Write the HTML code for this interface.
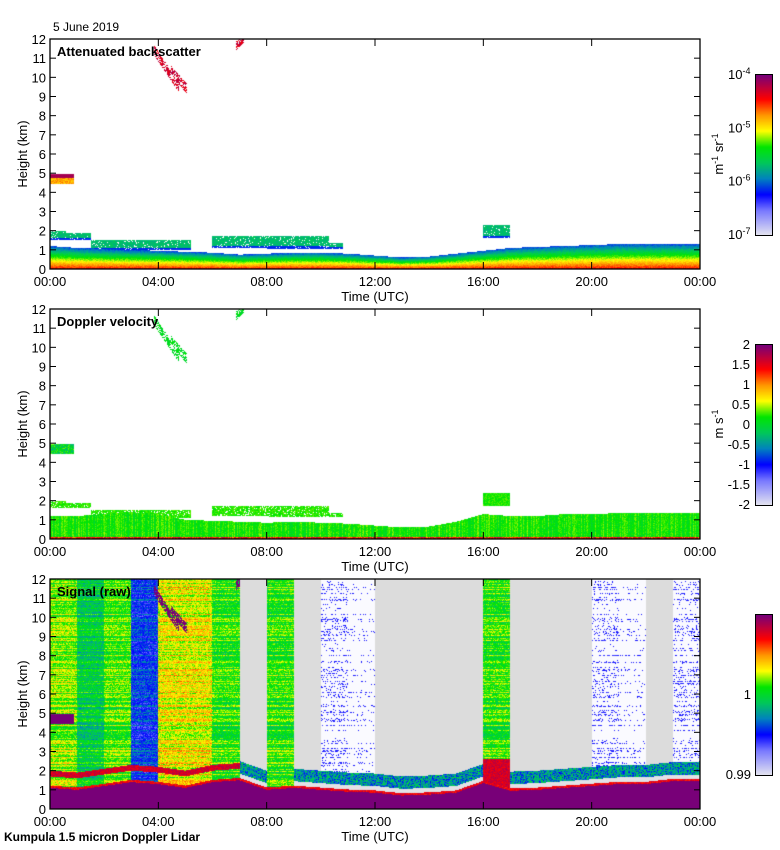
<!DOCTYPE html>
<html><head><meta charset="utf-8">
<style>
body{margin:0;background:#fff;width:780px;height:850px;overflow:hidden;font-family:"Liberation Sans",sans-serif;}
#wrap{position:relative;width:780px;height:850px;}
canvas{position:absolute;}
.t{position:absolute;font-size:13px;color:#000;white-space:nowrap;}
.b{font-weight:bold;}
</style></head>
<body>
<div id="wrap">
<div class="t" style="left:53px;top:20px;font-size:12px">5 June 2019</div>
<div class="t b" style="left:4px;top:830px;font-size:12px">Kumpula 1.5 micron Doppler Lidar</div>
</div>
<script>
// ---- data (hourly, 0..24 h) ----
const hours=[0,1,2,3,4,5,6,7,8,9,10,11,12,13,14,15,16,17,18,19,20,21,22,23,24];
const blTop=[1.2,1.1,1.05,1.0,0.95,0.9,0.85,0.75,0.8,0.85,0.85,0.8,0.7,0.6,0.65,0.8,0.95,1.1,1.15,1.2,1.25,1.3,1.3,1.3,1.3];
const dopTop=[1.2,1.2,1.3,1.4,1.3,1.0,0.95,0.9,0.85,0.9,0.85,0.8,0.7,0.6,0.65,0.9,1.3,1.2,1.2,1.3,1.3,1.35,1.35,1.35,1.35];
const purpleTop=[1.1,1.0,1.2,1.4,1.3,1.1,1.4,1.5,1.0,1.1,1.0,0.9,0.85,0.7,0.75,0.85,1.35,0.95,1.0,1.1,1.2,1.3,1.3,1.45,1.45];
const rawType=['yg','gt','gy','b','yo','yo','g','grey','g','grey','wb','wl','grey','grey','grey','grey','g','grey','grey','grey','wb','wl','grey','wb'];
const elevLayers=[[0,0.6,1.5,2.0],[0.6,1.5,1.5,1.9],[1.5,5.2,1.0,1.5],[6.0,10.3,1.1,1.7],[8.0,10.8,1.05,1.35],[16.0,17.0,1.6,2.3]];
const clouds=[[0,0.9,4.45,4.95]];
const cirrus=[[3.9,11.3,4.7,9.6],[4.5,10.3,5.0,9.5],[6.9,11.7,7.1,12.0]];
// ---- geometry ----
const X0=50,W=650,PH=230;
const panels=[{y:39,cb:74},{y:309,cb:344},{y:579,cb:614}];
const xs=t=>X0+t/24*W;
function interp(arr,t){const i=Math.min(23,Math.floor(t));const f=t-i;return arr[i]*(1-f)+arr[i+1]*f;}
const stops=[[0,[225,225,240]],[0.15,[120,120,255]],[0.25,[0,0,255]],[0.35,[0,130,190]],[0.45,[0,200,90]],[0.55,[0,230,0]],[0.65,[255,255,0]],[0.75,[255,150,0]],[0.85,[255,0,0]],[1,[120,0,120]]];
function cmap(v){v=Math.max(0,Math.min(1,v));for(let i=1;i<stops.length;i++){if(v<=stops[i][0]){const a=stops[i-1],b=stops[i];const f=(v-a[0])/(b[0]-a[0]);return a[1].map((c,k)=>Math.round(c+(b[1][k]-c)*f));}}return stops[stops.length-1][1];}
function hs(a,b){let h=(a*374761393+b*668265263)|0;h=(h^(h>>>13))*1274126177|0;return ((h^(h>>>16))>>>0)/4294967296;}
function inCirrus(t,h){for(const c of cirrus){const[t0,h0,t1,h1]=c;if(t<t0-0.05||t>t1+0.05)continue;const f=(t-t0)/(t1-t0);const hc=h0+(h1-h0)*f;if(Math.abs(h-hc)<0.25)return true;}return false;}
function pix(p,t,h,px,py){
 const n=hs(px,py),r=hs(7,py);
 if(p===0){
  const top=interp(blTop,t);
  if(h<top){const f=h/top;return cmap(0.85-0.55*f+0.06*(n-0.5));}
  for(const c of clouds)if(t>=c[0]&&t<=c[1]&&h>=c[2]&&h<=c[3])return cmap(h>4.75?0.95:0.68+0.1*n);
  if(inCirrus(t,h)&&n>0.35)return cmap(0.8+0.15*n);
  for(const e of elevLayers)if(t>=e[0]&&t<=e[1]&&h>=e[2]&&h<=e[3]){if(n<0.1)return null;return cmap((h-e[2]<0.1)?0.28:0.4+0.06*n);}
  return null;
 }
 if(p===1){
  const top=interp(dopTop,t);
  if(h<top){let v=0.55+0.08*(hs(px,3)-0.5)+0.06*(n-0.5);if(h<0.08)v=0.75+0.2*n;return cmap(v);}
  for(const c of clouds)if(t>=c[0]&&t<=c[1]&&h>=c[2]&&h<=c[3])return cmap(0.4+0.2*n);
  if(inCirrus(t,h)&&n>0.35)return cmap(0.45+0.1*n);
  for(const e of elevLayers.slice(0,5))if(t>=e[0]&&t<=e[1]&&h>=e[2]+0.1&&h<=e[3]&&n>0.15)return cmap(0.53+0.06*n);
  if(t>=16&&t<=17&&h>=1.7&&h<=2.4)return cmap(0.53+0.06*n);
  return null;
 }
 const pt=interp(purpleTop,t);
 if(h<pt)return [120,0,120];
 const ty=rawType[Math.min(23,Math.floor(t))];
 const grey=(ty==='grey'||ty==='wb'||ty==='wl');
 if(h<pt+0.12)return cmap(0.82+0.1*n);
 if(grey){
  if(h<pt+0.35)return [225,225,230];
  if(h<pt+1.0)return cmap(0.25+0.25*n);
  if(ty==='grey')return [220,220,220];
  const pr=ty==='wl'?0.18:0.32;
  return (n*0.7+r*0.5)>1.2-pr?cmap(0.12+0.12*n):[250,250,255];
 }
 if(h<pt+0.9&&h>pt+0.6&&t<7)return cmap(0.85+0.1*n);
 if(ty==='g'&&t>=16&&h<2.6)return cmap(0.85+0.1*n);
 const base={yg:0.6,gt:0.48,gy:0.57,b:0.28,yo:0.66,g:0.55}[ty];
 if(inCirrus(t,h)&&n>0.2)return [120,0,120];
 if(t<0.9&&h>4.45&&h<4.95)return [120,0,120];
 return cmap(base+0.16*(r-0.5)+0.14*(n-0.5));
}
const wrap=document.getElementById('wrap');
const names=['backscatter','velocity','signal'];
panels.forEach((P,pi)=>{
 const cv=document.createElement('canvas');cv.width=W;cv.height=PH;
 cv.style.left=X0+'px';cv.style.top=P.y+'px';
 
 
 wrap.appendChild(cv);
 const ctx=cv.getContext('2d');const im=ctx.createImageData(W,PH);
 for(let py=0;py<PH;py++){const h=(PH-py-0.5)/PH*12;for(let px=0;px<W;px++){const t=(px+0.5)/W*24;const c=pix(pi,t,h,px,py);const k=(py*W+px)*4;
  if(c){im.data[k]=c[0];im.data[k+1]=c[1];im.data[k+2]=c[2];}else{im.data[k]=255;im.data[k+1]=255;im.data[k+2]=255;}im.data[k+3]=255;}}
 ctx.putImageData(im,0,0);
 const cb=document.createElement('canvas');cb.width=16;cb.height=160;cb.style.left='755px';cb.style.top=P.cb+'px';cb.style.border='1px solid #000';
 
 
 wrap.appendChild(cb);const c2=cb.getContext('2d');
 for(let y=0;y<160;y++){const c=cmap(1-y/159);c2.fillStyle=`rgb(${c})`;c2.fillRect(0,y,16,1);}
});
const NS='http://www.w3.org/2000/svg';
const svg=document.createElementNS(NS,'svg');svg.setAttribute('width',780);svg.setAttribute('height',850);svg.style.position='absolute';svg.style.left=0;svg.style.top=0;


wrap.appendChild(svg);
function el(tag,attrs,txt){const e=document.createElementNS(NS,tag);for(const k in attrs)e.setAttribute(k,attrs[k]);if(txt!==undefined)e.textContent=txt;svg.appendChild(e);return e;}
const titles=['Attenuated backscatter','Doppler velocity','Signal (raw)'];
const xt=['00:00','04:00','08:00','12:00','16:00','20:00','00:00'];
panels.forEach((P,pi)=>{
 const r=el('rect',{x:X0,y:P.y,width:W,height:PH,fill:'none',stroke:'#000','stroke-width':1.3});
 
 for(let k=0;k<=12;k++){const y=P.y+PH-k*PH/12;
  el('line',{x1:X0,x2:X0+6,y1:y,y2:y,stroke:'#000'});el('line',{x1:X0+W-6,x2:X0+W,y1:y,y2:y,stroke:'#000'});
  const tl=el('text',{x:X0-4,y:y+5,'text-anchor':'end','font-size':13,'font-family':'Liberation Sans'},String(k));
  }
 xt.forEach((s,i)=>{const x=xs(i*4);el('line',{x1:x,x2:x,y1:P.y,y2:P.y+7,stroke:'#000'});el('line',{x1:x,x2:x,y1:P.y+PH-7,y2:P.y+PH,stroke:'#000'});
  const tl=el('text',{x:x,y:P.y+PH+17,'text-anchor':'middle','font-size':13,'font-family':'Liberation Sans'},s);
  });
 const xl=el('text',{x:375,y:P.y+PH+32,'text-anchor':'middle','font-size':13,'font-family':'Liberation Sans'},'Time (UTC)');
 
 const yl=el('text',{x:0,y:0,transform:`translate(27,${P.y+PH/2}) rotate(-90)`,'text-anchor':'middle','font-size':13,'font-family':'Liberation Sans'},'Height (km)');
 
 const tt=el('text',{x:57,y:P.y+17,'font-size':13,'font-weight':'bold','font-family':'Liberation Sans'},titles[pi]);
 
});
const cb1=['-4','-5','-6','-7'];
cb1.forEach((e,i)=>{const t=el('text',{x:728,y:panels[0].cb+5+i*53.3,'font-size':13,'font-family':'Liberation Sans'});t.innerHTML='10<tspan dy="-5" font-size="9">'+e+'</tspan>';
 });
const u1=el('text',{x:0,y:0,transform:`translate(723,${panels[0].cb+80}) rotate(-90)`,'text-anchor':'middle','font-size':13,'font-family':'Liberation Sans'});
u1.innerHTML='m<tspan dy="-5" font-size="9">-1</tspan><tspan dy="5"> sr</tspan><tspan dy="-5" font-size="9">-1</tspan>';

const cb2=['2','1.5','1','0.5','0','-0.5','-1','-1.5','-2'];
cb2.forEach((s,i)=>{const t=el('text',{x:750,y:panels[1].cb+5+i*20,'text-anchor':'end','font-size':13,'font-family':'Liberation Sans'},s);
 });
const u2=el('text',{x:0,y:0,transform:`translate(723,${panels[1].cb+80}) rotate(-90)`,'text-anchor':'middle','font-size':13,'font-family':'Liberation Sans'});
u2.innerHTML='m s<tspan dy="-5" font-size="9">-1</tspan>';

[['1',80],['0.99',160]].forEach(([s,o])=>{const t=el('text',{x:751,y:panels[2].cb+o+5,'text-anchor':'end','font-size':13,'font-family':'Liberation Sans'},s);
 });
</script>
</body></html>
